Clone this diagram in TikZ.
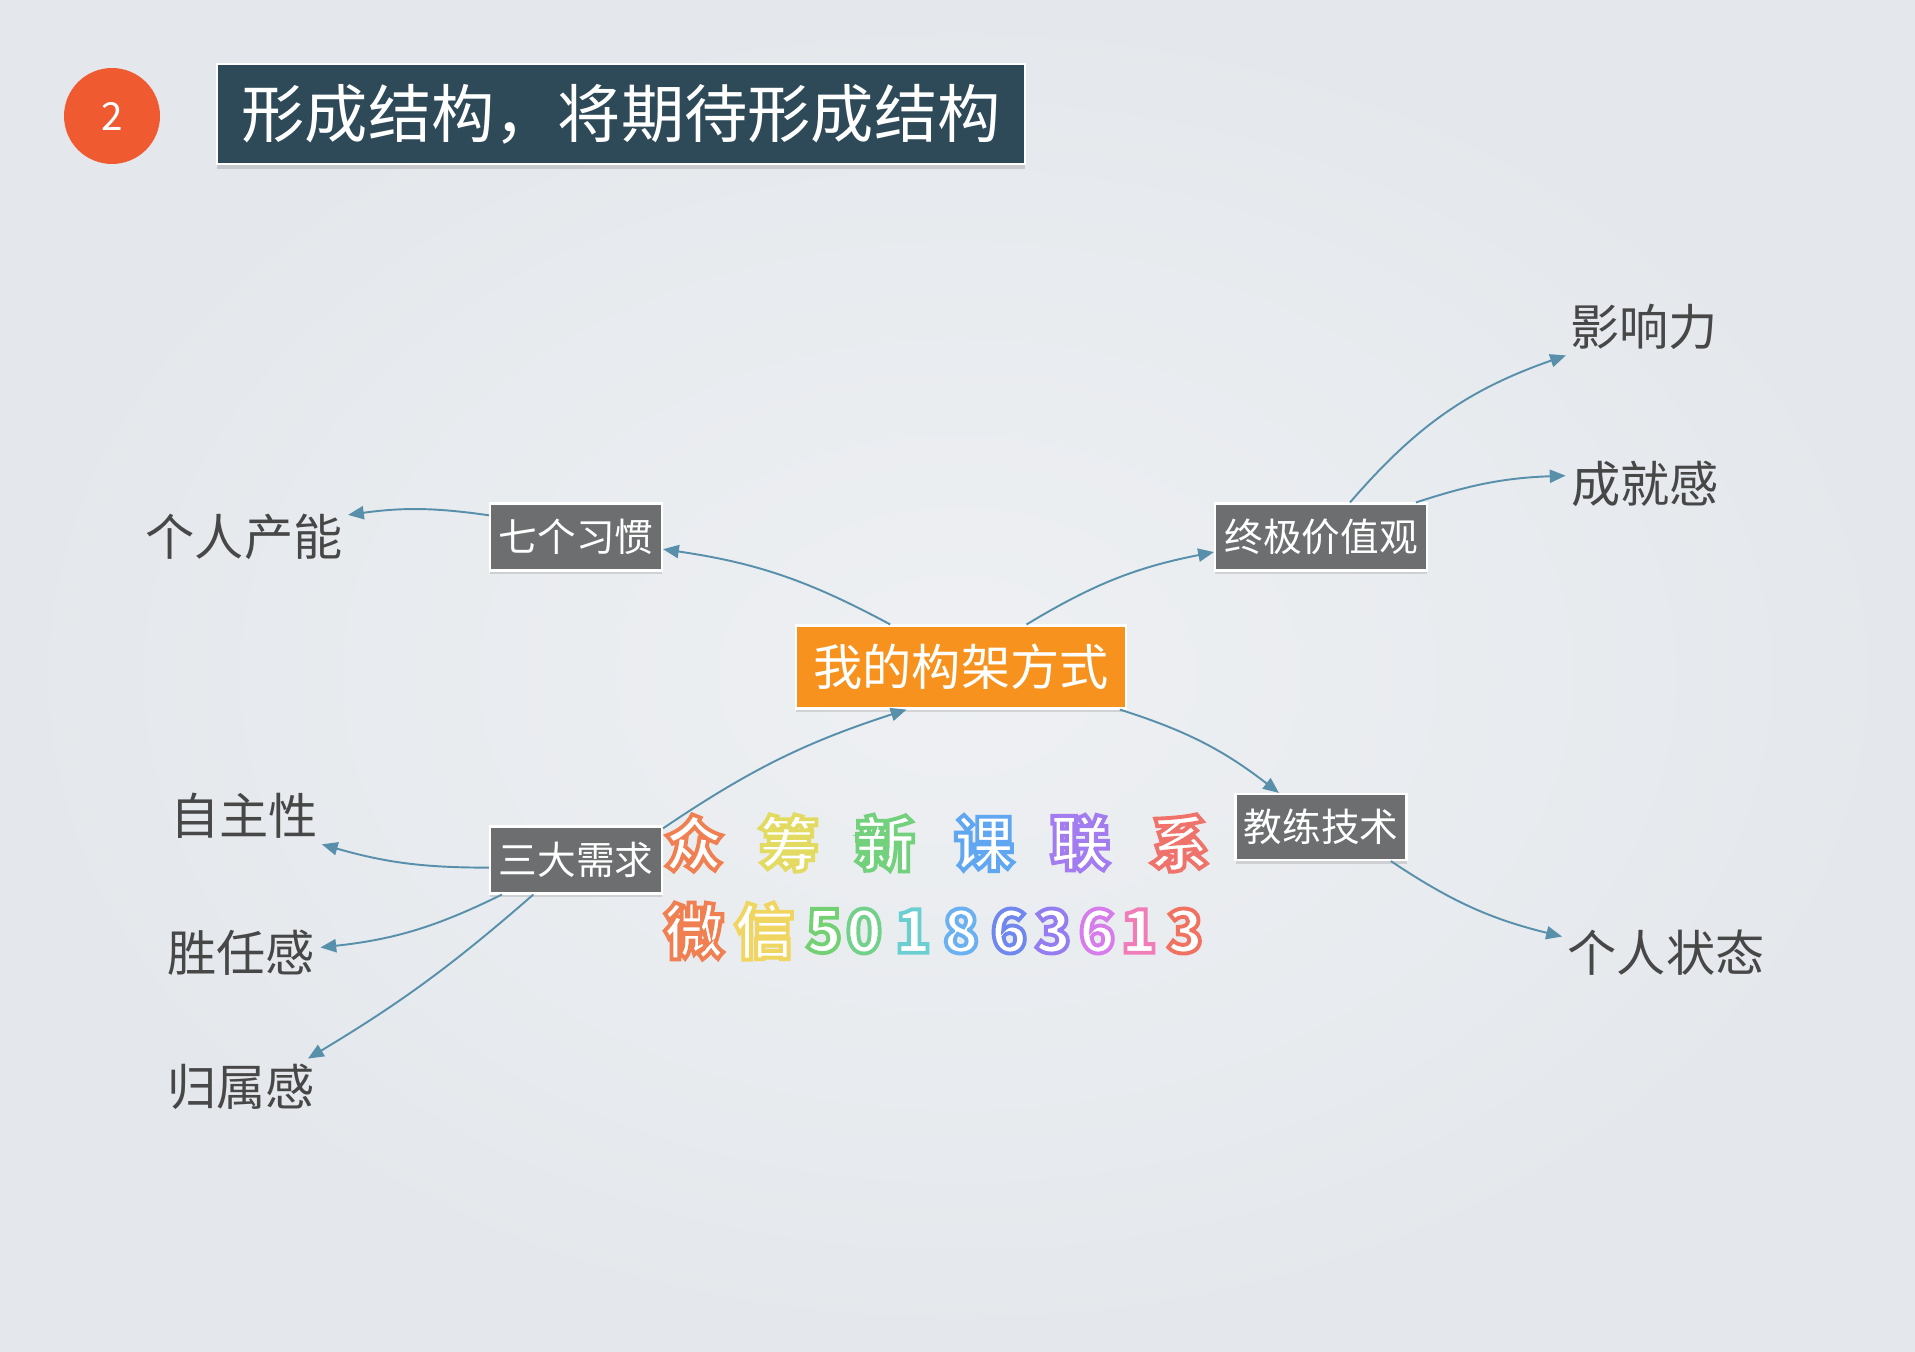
\documentclass[tikz,border=0pt]{standalone}
\usepackage{fontspec}
\usetikzlibrary{arrows.meta,shadows}
\newfontfamily\cjk{Noto Sans CJK SC}
\newcommand{\outlined}[2]{\special{pdf:literal direct 2 Tr 2.2 w #1 RG}#2\special{pdf:literal direct 0 Tr}}
\definecolor{bgcol}{HTML}{E4E8EC}
\definecolor{bglight}{HTML}{EEF0F3}
\definecolor{titleblue}{HTML}{2E4957}
\definecolor{badgered}{HTML}{F05A30}
\definecolor{boxgray}{HTML}{6C6E6F}
\definecolor{coreorange}{HTML}{F7921E}
\definecolor{leafgray}{HTML}{474747}
\definecolor{linkblue}{HTML}{5890AB}
\tikzset{
  topic/.style={draw=white, line width=1.2pt, fill=boxgray, text=white,
    font=\cjk\fontsize{22pt}{24pt}\selectfont, minimum width=3.44cm, minimum height=1.34cm,
    drop shadow={opacity=0.25, shadow xshift=0pt, shadow yshift=-2pt}},
  core/.style={topic, fill=coreorange, font=\cjk\fontsize{28pt}{30pt}\selectfont,
    minimum width=6.6cm, minimum height=1.66cm},
  leaf/.style={text=leafgray, font=\cjk\fontsize{28pt}{30pt}\selectfont, inner sep=3pt},
  link/.style={draw=linkblue, line width=1.1pt, -{Triangle[length=9pt,width=7.5pt]}},
  wmtext/.style={text=white, font=\cjk\bfseries\fontsize{34pt}{36pt}\selectfont, inner sep=0pt}
}
\begin{document}
\begin{tikzpicture}[x=0.02cm, y=-0.02cm]
  %background
  \useasboundingbox (0,0) rectangle (1915,1351);
  \shade[inner color=bglight, outer color=bgcol] (0,0) rectangle (1915,1351);
  %heading
  \node[circle, fill=badgered, minimum size=1.92cm, text=white,
    font=\cjk\fontsize{22pt}{24pt}\selectfont] (badge) at (112,116) {2};
  \node[draw=white, line width=1.2pt, fill=titleblue, text=white,
    minimum width=16.18cm, minimum height=2cm, font=\cjk\fontsize{36pt}{38pt}\selectfont,
    drop shadow={opacity=0.3, shadow xshift=0pt, shadow yshift=-3pt}] (title) at (621,114)
    {形成结构，将期待形成结构};
  %main boxes
  \node[core] (ctr) at (961,667) {我的构架方式};
  \node[topic] (habits) at (576,537) {七个习惯};
  \node[topic, minimum width=4.24cm] (values) at (1321,537) {终极价值观};
  \node[topic] (needs) at (576,860) {三大需求};
  \node[topic, minimum width=3.42cm, minimum height=1.32cm] (coach) at (1321,827) {教练技术};
  %leaves
  \node[leaf] (prod) at (244,537) {个人产能};
  \node[leaf] (infl) at (1644,327) {影响力};
  \node[leaf] (achv) at (1645,484) {成就感};
  \node[leaf] (auto) at (244,816) {自主性};
  \node[leaf] (comp) at (241,953) {胜任感};
  \node[leaf] (belong) at (241,1087) {归属感};
  \node[leaf] (state) at (1666,953) {个人状态};
  %links from the core
  \draw[link] (ctr.149) to[bend right=10] (habits.-8);
  \draw[link] (ctr.33) to[bend left=10] (values.188);
  \draw[link] (ctr.-15) to[bend left=10] (coach.141);
  \draw[link] (needs.20) to[bend left=8] (ctr.218);
  %links to the leaves
  \draw[link] (habits.166) to[bend right=8] (prod.12);
  \draw[link] (values.50) to[bend left=15] (infl.200);
  \draw[link] (values.20) to[bend left=8] (achv.174);
  \draw[link] (coach.-26) to[bend right=10] (state.171);
  \draw[link] (needs.185) to[bend left=8] (auto.-20);
  \draw[link] (needs.205) to[bend left=10] (comp.4);
  \draw[link] (needs.219) to[bend left=5] (belong.23);
  %watermark
  \foreach \ch/\col/\x [count=\i] in {众/0.94 0.50 0.32/694, 筹/0.89 0.86 0.38/789,
      新/0.45 0.82 0.49/885, 课/0.38 0.65 0.94/984, 联/0.64 0.49 0.94/1080, 系/0.94 0.45 0.42/1180}
    \node[wmtext] (wa\i) at (\x,843) {\outlined{\col}{\ch}};
  \foreach \ch/\col/\x [count=\i] in {微/0.94 0.50 0.32/694, 信/0.94 0.84 0.38/764,
      5/0.45 0.82 0.45/824, 0/0.45 0.82 0.55/864, 1/0.42 0.81 0.82/913,
      8/0.42 0.69 0.94/961, 6/0.44 0.53 0.93/1009, 3/0.58 0.49 0.94/1053,
      6/0.84 0.49 0.92/1097, 1/0.94 0.49 0.72/1139, 3/0.94 0.45 0.38/1185}
    \node[wmtext] (wb\i) at (\x,931) {\outlined{\col}{\ch}};
\end{tikzpicture}
\end{document}
